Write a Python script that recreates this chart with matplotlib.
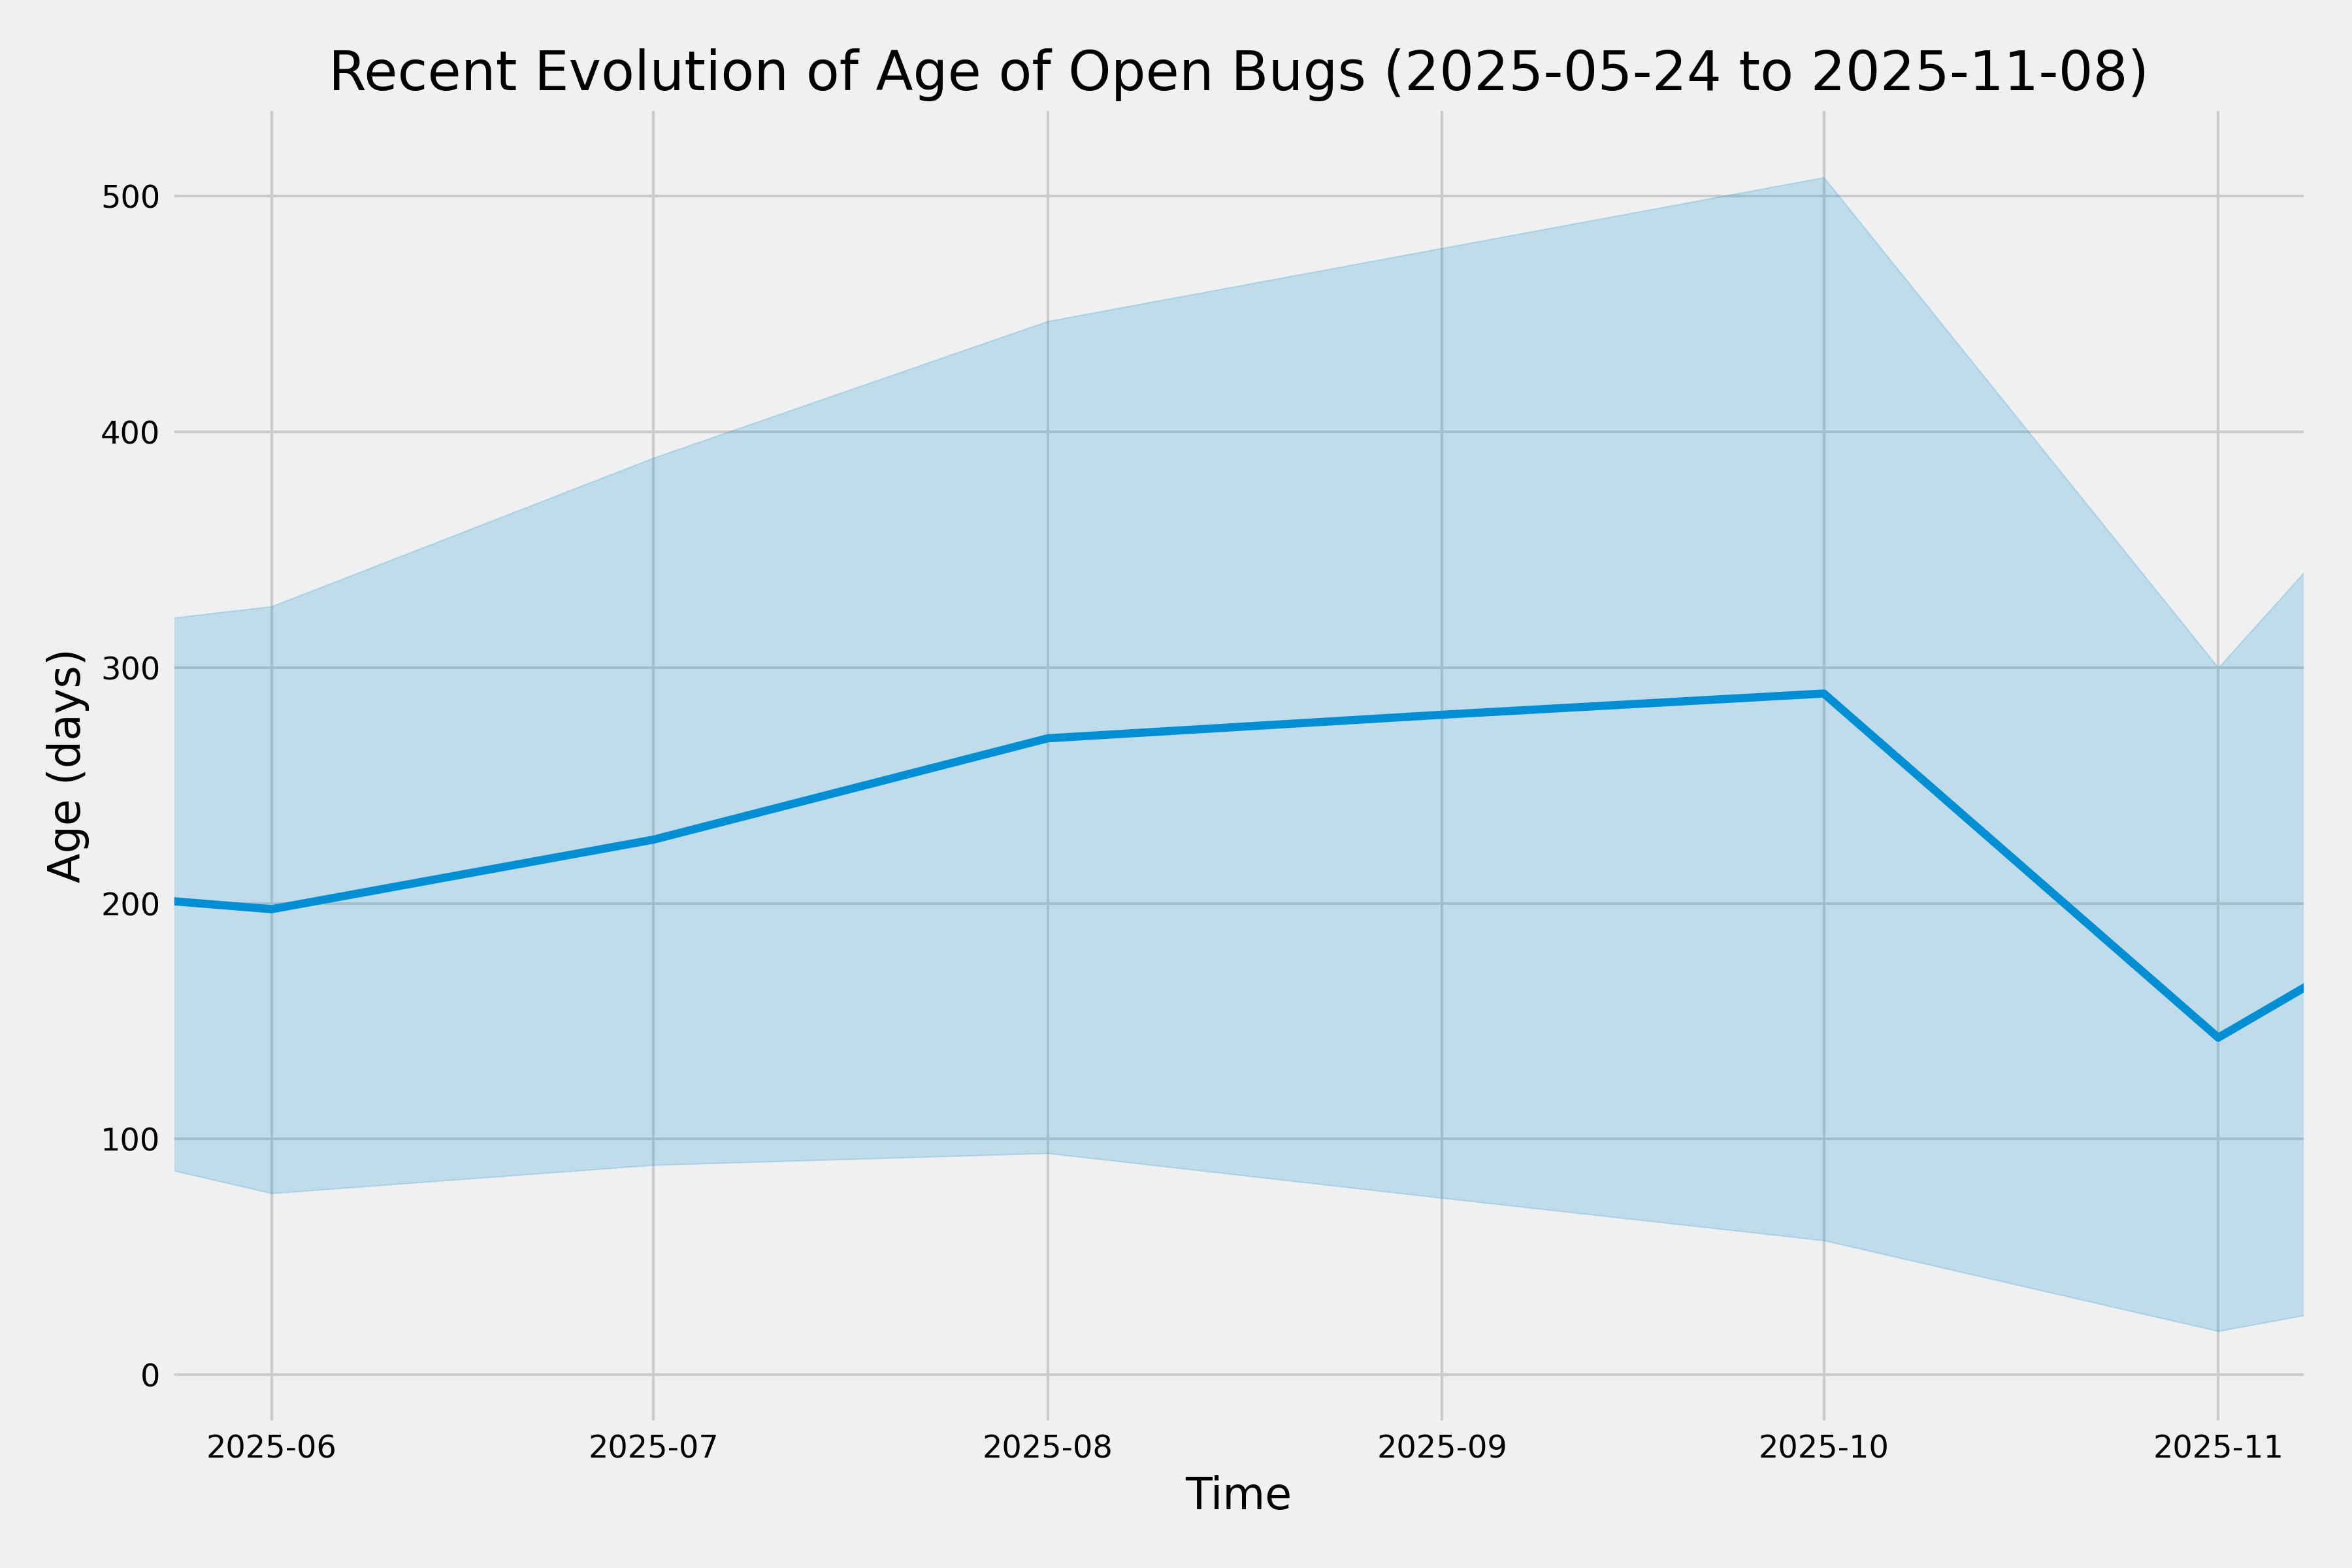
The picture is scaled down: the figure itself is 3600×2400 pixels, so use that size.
import matplotlib
matplotlib.use("Agg")
import matplotlib.pyplot as plt
import matplotlib.dates as mdates
import pandas as pd

dates = ["2025-05-24", "2025-06-01", "2025-07-01", "2025-08-01", "2025-09-01",
         "2025-10-01", "2025-11-01", "2025-11-08"]
mean_age = [201, 197.5, 227, 270, 280, 289, 143, 165]
upper_age = [321, 326, 389, 447, 478, 508, 300, 342]
lower_age = [87, 77, 89, 94, 75, 57, 18.5, 25.5]

x = pd.to_datetime(dates)

plt.style.use("fivethirtyeight")
fig, ax = plt.subplots(figsize=(12, 8), dpi=300)
ax.fill_between(x, lower_age, upper_age, color="#008fd5", alpha=0.2)
ax.plot(x, mean_age, color="#008fd5", linewidth=3)
ax.set_xlim(x[0], x[-1])
ax.set_ylim(-21, 538)
ax.xaxis.set_major_locator(mdates.MonthLocator())
ax.xaxis.set_major_formatter(mdates.DateFormatter("%Y-%m"))
ax.set_title("Recent Evolution of Age of Open Bugs (2025-05-24 to 2025-11-08)", fontsize=20)
ax.set_xlabel("Time", fontsize=16)
ax.set_ylabel("Age (days)", fontsize=16)
ax.tick_params(labelsize=11.5)
fig.subplots_adjust(left=0.0722, right=0.981, top=0.932, bottom=0.0917)
fig.savefig("out.png", dpi=300)
